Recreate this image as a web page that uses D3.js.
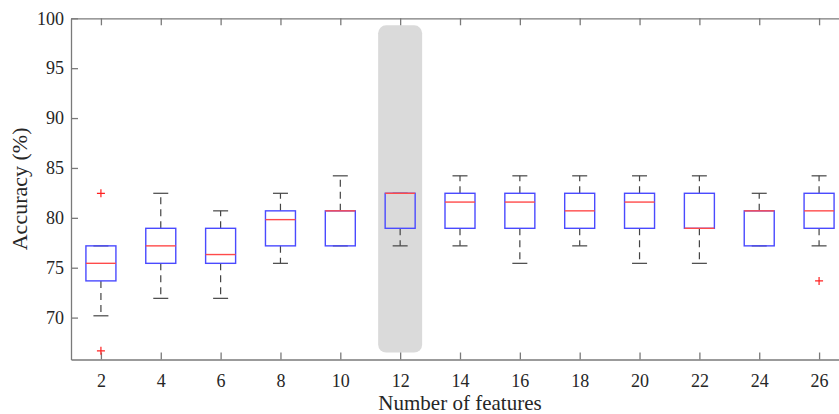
<!DOCTYPE html>
<html>
<head>
<meta charset="utf-8">
<script src="https://cdn.jsdelivr.net/npm/d3@7"></script>
<style>
    body { margin: 0; background: #fff; }
    svg { display: block; }
</style>
</head>
<body>
<div id="chart"></div>
<script>
// box plot stats (accuracy %)
const features = [2, 4, 6, 8, 10, 12, 14, 16, 18, 20, 22, 24, 26];
const whiskerLow  = [70.18, 71.93, 71.93, 75.44, 77.19, 77.19, 77.19, 75.44, 77.19, 75.44, 75.44, 77.19, 77.19];
const q1          = [73.68, 75.44, 75.44, 77.19, 77.19, 78.95, 78.95, 78.95, 78.95, 78.95, 78.95, 77.19, 78.95];
const medians     = [75.44, 77.19, 76.32, 79.82, 80.70, 82.46, 81.58, 81.58, 80.70, 81.58, 78.95, 80.70, 80.70];
const q3          = [77.19, 78.95, 78.95, 80.70, 80.70, 82.46, 82.46, 82.46, 82.46, 82.46, 82.46, 80.70, 82.46];
const whiskerHigh = [77.19, 82.46, 80.70, 82.46, 84.21, 82.46, 84.21, 84.21, 84.21, 84.21, 84.21, 82.46, 84.21];
const outlierFeature = [2, 2, 26];
const outlierValue   = [82.46, 66.67, 73.68];
const highlightFeature = 12;
const yTicks = [70, 75, 80, 85, 90, 95, 100];

const width = 839, height = 414;
const plotLeft = 71, plotRight = 849, plotTop = 18.3, plotBottom = 359.5;
const serif = '"Liberation Serif", "Times New Roman", Times, serif';

let svg = d3.select('#chart').append('svg')
    .attr('width', width)
    .attr('height', height);

let x = d3.scaleLinear().domain([1, 27]).range([plotLeft, plotRight]);
let y = d3.scaleLinear().domain([65.8, 100]).range([plotBottom, plotTop]);

let boxes = features.map((f, i) => ({
    f: f, lo: whiskerLow[i], q1: q1[i], med: medians[i], q3: q3[i], hi: whiskerHigh[i]
}));

// highlighted column
svg.append('rect')
    .attr('x', x(highlightFeature) - 22)
    .attr('y', plotTop + 7)
    .attr('width', 44)
    .attr('height', (plotBottom - 7) - (plotTop + 7))
    .attr('rx', 8)
    .attr('fill', '#dadada');

// axes (ticks point inward like matlab)
svg.append('g')
    .attr('transform', `translate(0,${plotBottom})`)
    .call(d3.axisBottom(x).tickValues(features).tickSizeInner(-7).tickSizeOuter(0).tickPadding(15));

svg.append('g')
    .attr('transform', `translate(0,${plotTop})`)
    .call(d3.axisTop(x).tickValues(features).tickSizeInner(-7).tickSizeOuter(0).tickFormat(''));

svg.append('g')
    .attr('transform', `translate(${plotLeft},0)`)
    .call(d3.axisLeft(y).tickValues(yTicks).tickSizeInner(-7).tickSizeOuter(0).tickPadding(7));

svg.append('g')
    .attr('transform', `translate(${plotRight},0)`)
    .call(d3.axisRight(y).tickValues(yTicks).tickSizeInner(-7).tickSizeOuter(0).tickFormat(''));

svg.selectAll('.domain, .tick line')
    .attr('stroke', '#7a7a7a')
    .attr('stroke-width', 1.3);
svg.selectAll('.tick text')
    .attr('fill', '#262626')
    .style('font-family', serif)
    .style('font-size', '18px');

// whiskers, boxes, medians
let bw = 30, cap = 15;
let g = svg.append('g');

boxes.forEach(b => {
    let cx = x(b.f);
    g.append('line')
        .attr('x1', cx).attr('x2', cx)
        .attr('y1', y(b.q3)).attr('y2', y(b.hi))
        .attr('stroke', '#444').attr('stroke-width', 1.2)
        .attr('stroke-dasharray', '7,5');
    g.append('line')
        .attr('x1', cx).attr('x2', cx)
        .attr('y1', y(b.q1)).attr('y2', y(b.lo))
        .attr('stroke', '#444').attr('stroke-width', 1.2)
        .attr('stroke-dasharray', '7,5');
    [b.lo, b.hi].forEach(v => {
        g.append('line')
            .attr('x1', cx - cap / 2).attr('x2', cx + cap / 2)
            .attr('y1', y(v)).attr('y2', y(v))
            .attr('stroke', '#444').attr('stroke-width', 1.2);
    });
    g.append('rect')
        .attr('x', cx - bw / 2)
        .attr('y', y(b.q3))
        .attr('width', bw)
        .attr('height', y(b.q1) - y(b.q3))
        .attr('fill', 'none')
        .attr('stroke', '#4a4aff')
        .attr('stroke-width', 1.4);
    g.append('line')
        .attr('x1', cx - bw / 2).attr('x2', cx + bw / 2)
        .attr('y1', y(b.med)).attr('y2', y(b.med))
        .attr('stroke', '#ff4a4a').attr('stroke-width', 1.4);
});

// outliers as red plus signs
outlierFeature.forEach((f, i) => {
    let cx = x(f), cy = y(outlierValue[i]);
    g.append('path')
        .attr('d', `M${cx - 4},${cy}H${cx + 4}M${cx},${cy - 4}V${cy + 4}`)
        .attr('stroke', '#ff2020')
        .attr('stroke-width', 1.2);
});

// axis titles
svg.append('text')
    .attr('x', (plotLeft + plotRight) / 2)
    .attr('y', 410)
    .attr('text-anchor', 'middle')
    .style('font-family', serif)
    .style('font-size', '21px')
    .attr('fill', '#262626')
    .text('Number of features');

svg.append('text')
    .attr('transform', `translate(27,${(plotTop + plotBottom) / 2}) rotate(-90)`)
    .attr('text-anchor', 'middle')
    .style('font-family', serif)
    .style('font-size', '22px')
    .attr('fill', '#262626')
    .text('Accuracy (%)');
</script>
</body>
</html>
